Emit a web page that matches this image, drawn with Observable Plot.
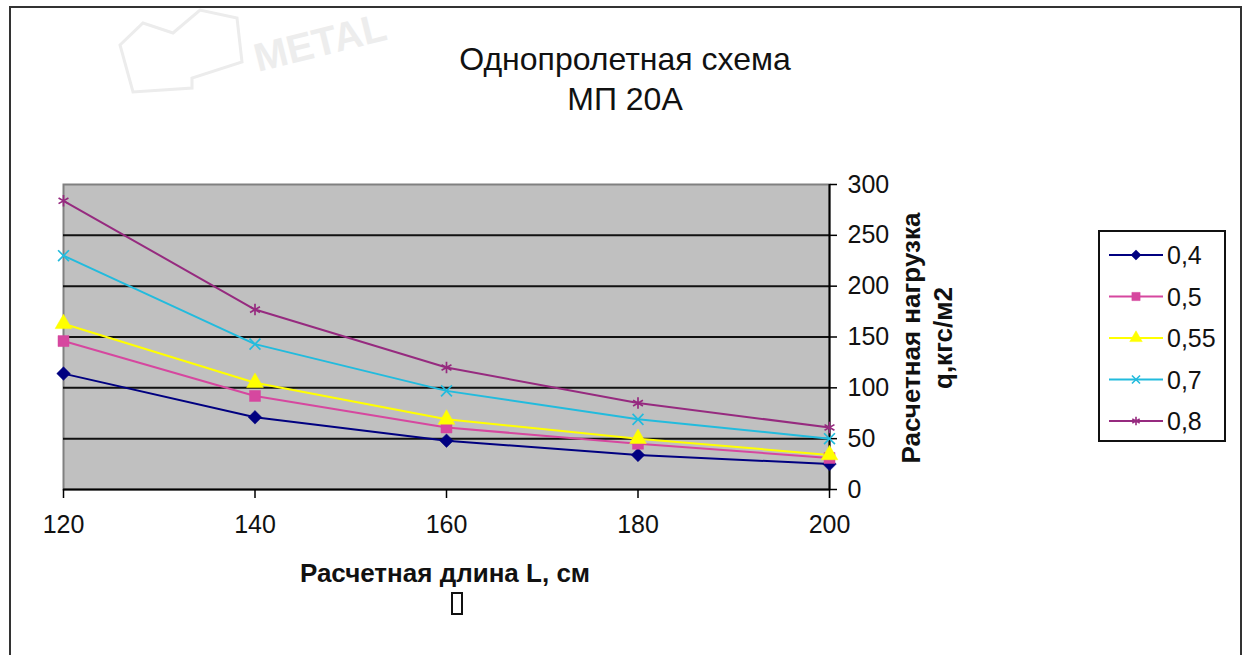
<!DOCTYPE html>
<html>
<head>
<meta charset="utf-8">
<script src="https://cdn.jsdelivr.net/npm/d3@7"></script>
<script src="https://cdn.jsdelivr.net/npm/@observablehq/plot@0.6"></script>
<style>
  html, body { margin: 0; padding: 0; background: #fff; }
  #wrap { position: relative; width: 1250px; height: 655px; overflow: hidden; }
  #wrap svg { position: absolute; left: 0; top: 0; }
</style>
</head>
<body>
<div id="wrap"></div>
<script>
// ---- data ----
const xValues = [120, 140, 160, 180, 200];
const seriesNames = ["0,4", "0,5", "0,55", "0,7", "0,8"];
const s04  = [114, 71, 48, 34, 25];
const s05  = [146, 92, 61, 45, 31];
const s055 = [163, 105, 69, 50, 34];
const s07  = [230, 143, 97, 69, 50];
const s08  = [284, 177, 120, 85, 61];
const xTicks = [120, 140, 160, 180, 200];
const yTicks = [0, 50, 100, 150, 200, 250, 300];
const gridValues = [50, 100, 150, 200, 250];
const titleLines = ["Однопролетная схема", "МП 20А"];
const xLabel = "Расчетная длина L, см";
const yLabelLines = ["Расчетная нагрузка", "q,кгс/м2"];
const watermark = "METAL";

// ---- styles ----
const SANS = "'Liberation Sans',Arial,Helvetica,sans-serif";
const TICKFONT = 25;
const colors = ["#000080", "#d6479f", "#ffff00", "#22bbdd", "#962a7f"];
const markers = [
  {symbol: "square", rotate: 45, r: 5.4, filled: true},
  {symbol: "square", rotate: 0, r: 6.2, filled: true},
  {symbol: "triangle", rotate: 0, r: 6.2, filled: true},
  {symbol: "times", rotate: 0, r: 5.0, filled: false},
  {symbol: "asterisk", rotate: 0, r: 5.4, filled: false}
];

const seriesValues = [s04, s05, s055, s07, s08];
const rows = seriesNames.map((name, i) =>
  xValues.map((x, j) => ({series: name, x, y: seriesValues[i][j]})));

const seriesMarks = [];
rows.forEach((data, i) => {
  seriesMarks.push(Plot.line(data, {x: "x", y: "y", stroke: colors[i], strokeWidth: 2}));
});
rows.forEach((data, i) => {
  const m = markers[i];
  seriesMarks.push(Plot.dot(data, {
    x: "x", y: "y", symbol: () => m.symbol, r: m.r, rotate: m.rotate,
    fill: m.filled ? colors[i] : "none",
    stroke: colors[i], strokeWidth: m.filled ? 0.5 : 1.7
  }));
});

const chart = Plot.plot({
  width: 1250,
  height: 655,
  marginLeft: 63,
  marginRight: 421,
  marginTop: 184,
  marginBottom: 166,
  x: {domain: [120, 200]},
  y: {domain: [0, 300]},
  style: {background: "transparent", color: "#000", fontFamily: SANS, overflow: "visible"},
  marks: [
    Plot.frame({fill: "#c0c0c0"}),
    Plot.frame({stroke: "#808080", strokeWidth: 2}),
    Plot.ruleY(gridValues, {stroke: "#111", strokeWidth: 2}),
    Plot.ruleY([0], {stroke: "#000", strokeWidth: 2}),
    Plot.ruleX([200], {stroke: "#000", strokeWidth: 2}),
    Plot.axisX({ticks: xTicks, tickSize: 9, tickPadding: 17, fontSize: TICKFONT, fontFamily: SANS,
                tickFormat: d => String(d), label: null, strokeWidth: 1.5, fill: "#111"}),
    Plot.axisY({anchor: "right", ticks: yTicks, tickSize: 7, tickPadding: 11, fontSize: TICKFONT, fontFamily: SANS,
                tickFormat: d => String(d), label: null, strokeWidth: 1.5, fill: "#111"}),
    ...seriesMarks
  ]
});

document.getElementById("wrap").appendChild(chart);

// ---- layout decorations (title, axis titles, legend, frame) ----
const svg = d3.select(chart);
const deco = svg.append("g").attr("text-anchor", "start");

// chart area frame
deco.append("rect")
  .attr("x", 10).attr("y", 7).attr("width", 1231).attr("height", 720)
  .attr("fill", "none").attr("stroke", "#333").attr("stroke-width", 2);

// watermark (faint)
deco.append("polygon")
  .attr("points", "120,45 143,23 173,33 200,10 237,18 242,62 192,78 192,88 133,92")
  .attr("fill", "none").attr("stroke", "#ececec").attr("stroke-width", 3);
deco.append("text")
  .attr("transform", "translate(258,72) rotate(-14)")
  .attr("font-family", SANS).attr("font-weight", "bold").attr("font-size", 40)
  .attr("fill", "#ededed").text(watermark);

// title
titleLines.forEach((t, i) => {
  deco.append("text")
    .attr("x", 625).attr("y", 70 + i * 40)
    .attr("text-anchor", "middle")
    .attr("font-family", SANS).attr("font-size", 32).attr("fill", "#111")
    .text(t);
});

// x axis title
deco.append("text")
  .attr("x", 445).attr("y", 582)
  .attr("text-anchor", "middle")
  .attr("font-family", SANS).attr("font-weight", "bold").attr("font-size", 26).attr("fill", "#111")
  .text(xLabel);
deco.append("rect")
  .attr("x", 452).attr("y", 593).attr("width", 10).attr("height", 21)
  .attr("fill", "none").attr("stroke", "#111").attr("stroke-width", 2);

// y axis title (rotated)
yLabelLines.forEach((t, i) => {
  deco.append("text")
    .attr("transform", `translate(${920 + i * 32},338) rotate(-90)`)
    .attr("text-anchor", "middle")
    .attr("font-family", SANS).attr("font-weight", "bold").attr("font-size", 26).attr("fill", "#111")
    .text(t);
});

// legend
const lg = deco.append("g");
lg.append("rect")
  .attr("x", 1099).attr("y", 231).attr("width", 126).attr("height", 210)
  .attr("fill", "#fff").attr("stroke", "#111").attr("stroke-width", 2);
const symbolMap = {square: d3.symbolSquare, triangle: d3.symbolTriangle, times: d3.symbolTimes, asterisk: d3.symbolAsterisk};
seriesNames.forEach((name, i) => {
  const cy = 255 + i * 41.5;
  const m = markers[i];
  lg.append("line")
    .attr("x1", 1109).attr("x2", 1163).attr("y1", cy).attr("y2", cy)
    .attr("stroke", colors[i]).attr("stroke-width", 2);
  const r = m.r * 0.75;
  lg.append("path")
    .attr("d", d3.symbol(symbolMap[m.symbol], Math.PI * r * r)())
    .attr("transform", `translate(1136,${cy}) rotate(${m.rotate})`)
    .attr("fill", m.filled ? colors[i] : "none")
    .attr("stroke", colors[i]).attr("stroke-width", m.filled ? 0.5 : 1.6);
  lg.append("text")
    .attr("x", 1167).attr("y", cy).attr("dy", "0.36em")
    .attr("text-anchor", "start")
    .attr("font-family", SANS).attr("font-size", TICKFONT).attr("fill", "#111")
    .text(name);
});
</script>
</body>
</html>
